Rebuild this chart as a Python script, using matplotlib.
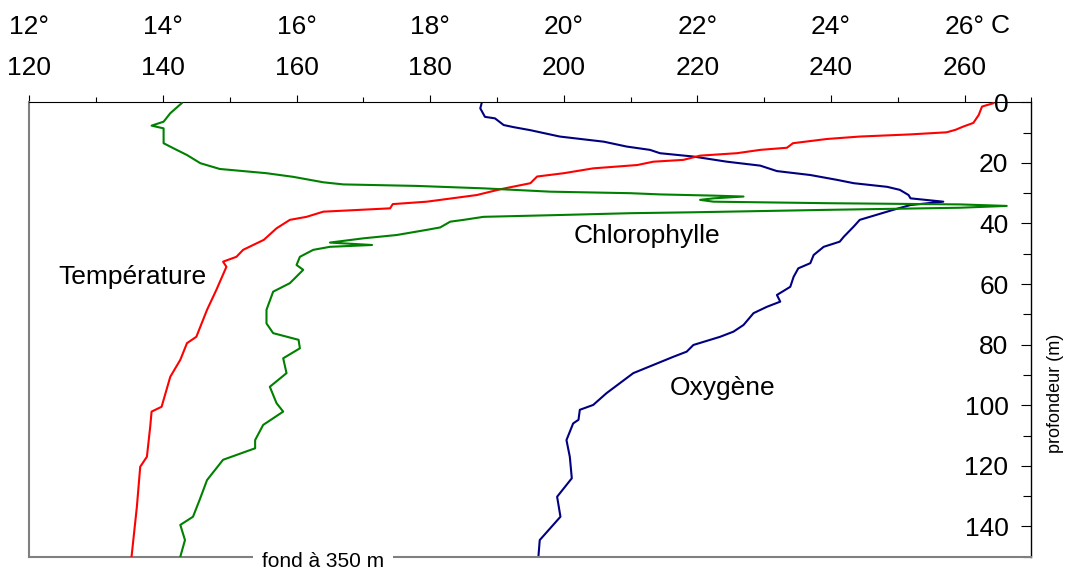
"""Profils verticaux : température, oxygène et chlorophylle en fonction de la profondeur."""
import matplotlib
matplotlib.use("Agg")
import matplotlib.pyplot as plt
from matplotlib.ticker import MultipleLocator

plt.rcParams["font.family"] = ["Liberation Sans", "DejaVu Sans"]

# --- données --------------------------------------------------------------
# température (°C)
temp_depth = [0.3, 1.4, 4.2, 6.8, 8.0, 9.1, 9.9, 10.6, 11.3, 12.1, 13.5, 15.0,
              15.7, 16.8, 17.6, 19.0, 19.6, 20.7, 21.8, 23.4, 24.5, 26.7, 28.7,
              30.6, 32.8, 33.6, 35.0, 36.1, 37.8, 38.8, 41.6, 45.4, 48.7, 51.0,
              52.6, 54.3, 61.9, 68.5, 77.4, 79.5, 85.0, 90.6, 100.5, 102.1,
              107.0, 117.0, 120.3, 133.5, 150.0]
temp_val = [26.43, 26.26, 26.21, 26.13, 25.98, 25.86, 25.73, 25.18, 24.43, 23.94,
            23.43, 23.34, 22.94, 22.59, 22.04, 21.79, 21.34, 21.10, 20.44, 20.00,
            19.60, 19.50, 19.05, 18.70, 17.95, 17.44, 17.40, 16.40, 16.15, 15.90,
            15.70, 15.51, 15.20, 15.10, 14.90, 14.95, 14.80, 14.66, 14.50, 14.36,
            14.26, 14.11, 13.98, 13.83, 13.81, 13.76, 13.66, 13.61, 13.53]

# oxygène
oxy_depth = [0.3, 2.0, 4.8, 5.3, 7.5, 8.2, 9.2, 11.3, 13.0, 14.6, 15.7, 16.8,
             17.9, 19.6, 20.9, 22.7, 24.0, 25.6, 26.7, 27.9, 28.9, 30.6, 31.7,
             32.8, 33.9, 35.5, 38.8, 41.0, 44.4, 46.0, 47.7, 50.4, 53.1, 54.8,
             57.6, 60.9, 63.6, 65.8, 67.5, 69.6, 73.5, 75.7, 77.4, 80.1, 82.3,
             84.0, 86.7, 89.4, 92.7, 96.0, 99.9, 101.5, 104.8, 106.0, 111.5,
             117.0, 124.1, 130.2, 136.8, 144.5, 150.0]
oxy_val = [187.7, 187.5, 188.2, 189.7, 191.0, 192.5, 195.0, 199.4, 206.0, 209.4,
           212.9, 214.4, 219.4, 224.4, 229.4, 231.9, 236.9, 240.9, 243.4, 248.4,
           250.3, 251.6, 251.9, 256.8, 251.9, 249.3, 244.3, 243.4, 241.9, 241.3,
           238.9, 237.4, 236.9, 235.1, 234.4, 233.9, 231.9, 232.4, 230.4, 228.4,
           226.9, 225.4, 223.4, 219.4, 218.4, 216.4, 213.4, 210.4, 208.4, 206.4,
           204.4, 202.4, 202.2, 201.4, 200.4, 200.9, 201.2, 199.0, 199.5, 196.4,
           196.2]

# chlorophylle (unités relatives, pas d'axe sur la figure)
chl_depth = [0.3, 3.6, 6.4, 7.7, 8.6, 13.5, 15.2, 17.4, 20.1, 22.0, 23.4, 24.6,
             26.4, 27.1, 27.6, 28.4, 29.5, 30.0, 30.4, 30.8, 31.1, 31.7, 32.2,
             32.8, 33.3, 33.7, 34.2, 34.8, 35.5, 36.3, 36.6, 37.2, 37.8, 38.8,
             39.4, 41.3, 42.1, 43.8, 44.9, 46.3, 47.1, 47.7, 48.7, 51.0, 53.7,
             55.3, 59.7, 62.5, 68.5, 73.0, 76.2, 78.4, 81.2, 84.5, 89.4, 93.9,
             99.3, 102.1, 106.5, 111.5, 114.2, 118.0, 124.7, 131.2, 136.8, 139.5,
             144.5, 150.0]
chl_val = [22.8, 21.1, 20.1, 18.3, 20.1, 20.1, 21.6, 23.6, 25.6, 28.5, 35.5, 39.5,
           44.0, 47.0, 58.0, 68.0, 78.0, 90.0, 94.4, 102.4, 106.9, 102.4, 100.4,
           102.4, 119.4, 139.3, 146.3, 139.3, 119.4, 99.4, 90.0, 79.4, 68.0, 65.0,
           63.0, 61.5, 59.5, 55.0, 50.0, 45.0, 51.3, 45.0, 42.5, 40.5, 40.0,
           41.0, 39.0, 36.5, 35.5, 35.5, 36.5, 40.3, 40.5, 38.0, 38.5, 36.0,
           37.0, 38.0, 35.0, 33.8, 33.8, 29.0, 26.6, 25.5, 24.5, 22.6,
           23.3, 22.6]

oxy_ticks = list(range(120, 261, 20))
temp_ticks = list(range(12, 27, 2))
temp_labels = [f"{t}°" for t in temp_ticks]
depth_ticks = list(range(0, 141, 20))

FS = 19
GRAY = "#808080"

fig = plt.figure(figsize=(10.66, 5.70), dpi=100)
ax = fig.add_axes([0.0275, 0.0233, 0.9401, 0.7972])
# les twiny() renvoient les graduations de ax en bas : on les crée d'abord
ax_t = ax.twiny()
ax_c = ax.twiny()

# axe oxygène (en haut, 2e rangée) + profondeur (à droite, labels à l'intérieur)
ax.set_xlim(120, 270)
ax.set_ylim(150, 0)
ax.xaxis.tick_top()
ax.set_xticks(oxy_ticks)
ax.xaxis.set_minor_locator(MultipleLocator(10))
ax.tick_params(axis="x", which="major", direction="out", length=5.4, width=0.8,
               pad=11, labelsize=FS)
ax.tick_params(axis="x", which="minor", direction="out", length=3.6, width=0.8)

ax.yaxis.tick_right()
ax.set_yticks(depth_ticks)
ax.yaxis.set_minor_locator(MultipleLocator(10))
ax.tick_params(axis="y", which="major", direction="in", length=7.2, width=0.8,
               pad=-16.6, labelsize=FS)
ax.tick_params(axis="y", which="minor", direction="in", length=5.8, width=0.8)
for lbl in ax.get_yticklabels():
    lbl.set_horizontalalignment("right")
ax.yaxis.set_label_position("right")
ax.set_ylabel("profondeur (m)", fontsize=13)
ax.yaxis.set_label_coords(1.0155, 0.359)

ax.spines["left"].set_color(GRAY)
ax.spines["left"].set_linewidth(1.5)
ax.spines["bottom"].set_color(GRAY)
ax.spines["bottom"].set_linewidth(1.5)
ax.spines["top"].set_linewidth(0.8)
ax.spines["right"].set_linewidth(1.0)

ax.plot(oxy_val, oxy_depth, color="#000080", lw=1.5)

# axe température (en haut, 1re rangée)
ax_t.set_xlim(12, 27)
ax_t.set_xticks(temp_ticks)
ax_t.set_xticklabels(temp_labels)
ax_t.tick_params(axis="x", length=0, pad=45.7, labelsize=FS)
for s in ax_t.spines.values():
    s.set_visible(False)
ax_t.annotate("C", xy=(26, 1), xycoords=("data", "axes fraction"),
              xytext=(18.4, 49.7), textcoords="offset points",
              ha="left", va="baseline", fontsize=FS)
ax_t.plot(temp_val, temp_depth, color="red", lw=1.5)

# chlorophylle, échelle relative sans axe
ax_c.set_xlim(0, 150)
ax_c.set_xticks([])
for s in ax_c.spines.values():
    s.set_visible(False)
ax_c.plot(chl_val, chl_depth, color="#008000", lw=1.5)

ax.text(124.3, 60, "Température", fontsize=FS, ha="left", va="baseline")
ax.text(201.4, 46.5, "Chlorophylle", fontsize=FS, ha="left", va="baseline")
ax.text(215.9, 96.6, "Oxygène", fontsize=FS, ha="left", va="baseline")

ax_c.annotate("fond à 350 m", xy=(0.293, 0), xycoords="axes fraction",
              xytext=(0, -7.2), textcoords="offset points",
              ha="center", va="baseline", fontsize=15,
              bbox=dict(boxstyle="square,pad=0.45", fc="white", ec="none"))

fig.savefig("out.png", dpi=100)
